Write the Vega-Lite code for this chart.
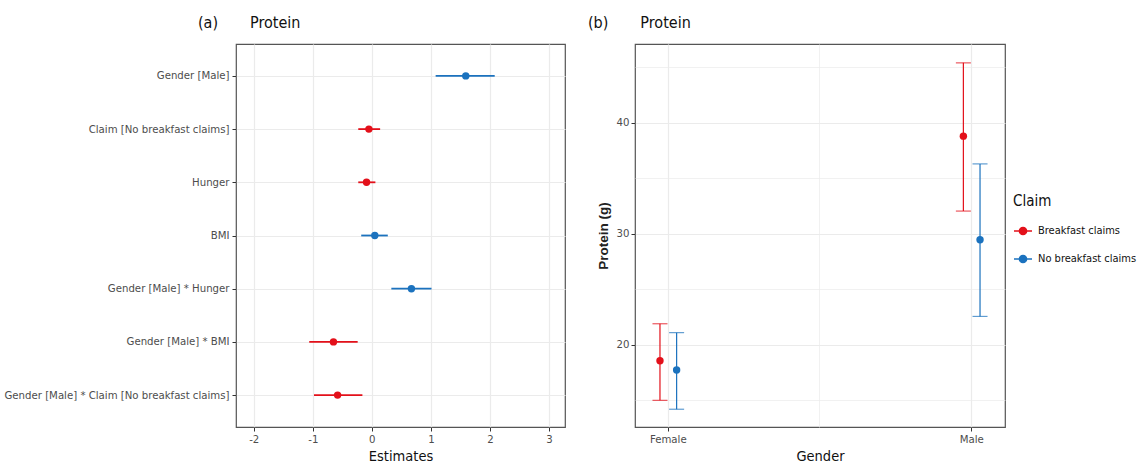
{
  "$schema": "https://vega.github.io/schema/vega-lite/v6.json",
  "background": "white",
  "padding": {"left": 3, "top": 14, "right": 0, "bottom": 0},
  "spacing": 21,
  "config": {
    "font": "Liberation Sans Narrow, DejaVu Sans Condensed, Arial Narrow, Liberation Sans, sans-serif",
    "view": {"stroke": "#555555", "strokeWidth": 1.2},
    "axis": {
      "domain": false,
      "gridColor": "#EBEBEB",
      "gridWidth": 1.1,
      "tickColor": "#333333",
      "tickSize": 4,
      "labelColor": "#4D4D4D",
      "labelFont": "Liberation Sans Narrow, DejaVu Sans Condensed, Arial Narrow, Liberation Sans, sans-serif",
      "labelFontSize": 11.3,
      "labelLimit": 0,
      "titleFont": "Liberation Sans Narrow, DejaVu Sans Condensed, Arial Narrow, Liberation Sans, sans-serif",
      "titleFontSize": 14.5,
      "titleFontWeight": "normal",
      "titleColor": "#111111"
    },
    "title": {"anchor": "start", "frame": "group", "font": "Liberation Sans Narrow, DejaVu Sans Condensed, Arial Narrow, Liberation Sans, sans-serif", "fontSize": 16, "fontWeight": "normal", "color": "#111111", "offset": 13}
  },
  "datasets": {
    "estimates": [
      {"Term": "Gender [Male]", "Estimate": 1.59, "Low": 1.08, "High": 2.08, "Direction": "positive"},
      {"Term": "Claim [No breakfast claims]", "Estimate": -0.05, "Low": -0.23, "High": 0.14, "Direction": "negative"},
      {"Term": "Hunger", "Estimate": -0.09, "Low": -0.23, "High": 0.06, "Direction": "negative"},
      {"Term": "BMI", "Estimate": 0.05, "Low": -0.18, "High": 0.27, "Direction": "positive"},
      {"Term": "Gender [Male] * Hunger", "Estimate": 0.67, "Low": 0.33, "High": 1.01, "Direction": "positive"},
      {"Term": "Gender [Male] * BMI", "Estimate": -0.65, "Low": -1.06, "High": -0.24, "Direction": "negative"},
      {"Term": "Gender [Male] * Claim [No breakfast claims]", "Estimate": -0.58, "Low": -0.98, "High": -0.16, "Direction": "negative"}
    ],
    "means": [
      {"Gender": "Female", "Claim": "Breakfast claims", "Protein": 18.57, "Lower": 15.0, "Upper": 21.9},
      {"Gender": "Female", "Claim": "No breakfast claims", "Protein": 17.74, "Lower": 14.2, "Upper": 21.1},
      {"Gender": "Male", "Claim": "Breakfast claims", "Protein": 38.8, "Lower": 32.05, "Upper": 45.4},
      {"Gender": "Male", "Claim": "No breakfast claims", "Protein": 29.46, "Lower": 22.56, "Upper": 36.3}
    ]
  },
  "resolve": {"scale": {"color": "independent"}},
  "hconcat": [
    {
      "width": 329,
      "height": 383,
      "title": {"text": "(a)\u00a0\u00a0\u00a0\u00a0\u00a0\u00a0\u00a0Protein", "dx": -38},
      "data": {"name": "estimates"},
      "encoding": {
        "y": {
          "field": "Term", "type": "nominal", "sort": null,
          "scale": {"type": "point", "padding": 0.6},
          "axis": {"title": null, "labelPadding": 3, "grid": true, "gridWidth": 1.2}
        },
        "color": {
          "field": "Direction", "type": "nominal",
          "scale": {"domain": ["negative", "positive"], "range": ["#E3101A", "#1B72BE"]},
          "legend": null
        }
      },
      "layer": [
        {
          "mark": {"type": "rule", "strokeWidth": 1.8},
          "encoding": {
            "x": {
              "field": "Low", "type": "quantitative",
              "scale": {"domain": [-2.3, 3.27], "nice": false, "zero": false},
              "axis": {
                "title": "Estimates",
                "values": [-2, -1.5, -1, -0.5, 0, 0.5, 1, 1.5, 2, 2.5, 3],
                "labelExpr": "datum.value % 1 === 0 ? '' + datum.value : ''",
                "tickOpacity": {"condition": {"test": "datum.value % 1 !== 0", "value": 0}, "value": 1},
                "gridWidth": {"condition": {"test": "datum.value % 1 !== 0", "value": 0.7}, "value": 1.2},
                "titlePadding": 5
              }
            },
            "x2": {"field": "High"}
          }
        },
        {
          "mark": {"type": "circle", "size": 55, "opacity": 1},
          "encoding": {"x": {"field": "Estimate", "type": "quantitative"}}
        }
      ]
    },
    {
      "width": 370,
      "height": 383,
      "title": {"text": "(b)\u00a0\u00a0\u00a0\u00a0\u00a0\u00a0\u00a0Protein", "dx": -47},
      "data": {"name": "means"},
      "encoding": {
        "x": {
          "field": "Gender", "type": "nominal",
          "scale": {"domain": ["Female", "mid", "Male"], "paddingInner": 0.561, "paddingOuter": 0},
          "axis": {
            "title": "Gender",
            "labelAngle": 0,
            "grid": true,
            "bandPosition": 0.5,
            "labelExpr": "datum.value === 'mid' ? '' : datum.label",
            "tickOpacity": {"condition": {"test": "datum.value === 'mid'", "value": 0}, "value": 1},
            "gridWidth": {"condition": {"test": "datum.value === 'mid'", "value": 0.7}, "value": 1.2},
            "titlePadding": 5
          }
        },
        "xOffset": {
          "field": "Claim", "type": "nominal",
          "scale": {"paddingInner": 0, "paddingOuter": 1.08}
        },
        "color": {
          "field": "Claim", "type": "nominal",
          "scale": {"domain": ["Breakfast claims", "No breakfast claims"], "range": ["#E3101A", "#1B72BE"]},
          "legend": {
            "orient": "none",
            "legendX": 378,
            "legendY": 150,
            "title": "Claim",
            "titleFont": "Liberation Sans Narrow, DejaVu Sans Condensed, Arial Narrow, Liberation Sans, sans-serif",
            "titleFontSize": 15,
            "titleFontWeight": "normal",
            "titleColor": "#111111",
            "titlePadding": 12,
            "labelFont": "Liberation Sans Narrow, DejaVu Sans Condensed, Arial Narrow, Liberation Sans, sans-serif",
            "labelFontSize": 11,
            "labelColor": "#111111",
            "labelOffset": 5,
            "rowPadding": 11,
            "symbolType": "M-1,0L1,0M0.4,0A0.4,0.4,0,1,1,-0.4,0A0.4,0.4,0,1,1,0.4,0Z",
            "symbolSize": 324,
            "symbolStrokeWidth": 1.5,
            "symbolOpacity": 1,
            "encode": {
              "symbols": {
                "update": {
                  "fill": {"signal": "datum.value === 'Breakfast claims' ? '#E3101A' : '#1B72BE'"},
                  "stroke": {"signal": "datum.value === 'Breakfast claims' ? '#E3101A' : '#1B72BE'"},
                  "opacity": {"value": 1}
                }
              }
            }
          }
        }
      },
      "layer": [
        {
          "mark": {"type": "rule", "strokeWidth": 1.2},
          "encoding": {
            "y": {
              "field": "Lower", "type": "quantitative",
              "scale": {"domain": [12.6, 47.1], "nice": false, "zero": false},
              "axis": {
                "title": "Protein (g)",
                "titleFont": "Liberation Sans",
                "titleFontWeight": "bold",
                "titleFontSize": 13.5,
                "titleColor": "#222222",
                "values": [15, 20, 25, 30, 35, 40, 45],
                "labelExpr": "datum.value % 10 === 0 ? '' + datum.value : ''",
                "tickOpacity": {"condition": {"test": "datum.value % 10 !== 0", "value": 0}, "value": 1},
                "gridWidth": {"condition": {"test": "datum.value % 10 !== 0", "value": 0.7}, "value": 1.2},
                "titlePadding": 6
              }
            },
            "y2": {"field": "Upper"}
          }
        },
        {
          "mark": {"type": "tick", "orient": "horizontal", "size": 15, "thickness": 1.2},
          "encoding": {"y": {"field": "Upper", "type": "quantitative"}}
        },
        {
          "mark": {"type": "tick", "orient": "horizontal", "size": 15, "thickness": 1.2},
          "encoding": {"y": {"field": "Lower", "type": "quantitative"}}
        },
        {
          "mark": {"type": "circle", "size": 55, "opacity": 1},
          "encoding": {"y": {"field": "Protein", "type": "quantitative"}}
        }
      ]
    }
  ]
}
